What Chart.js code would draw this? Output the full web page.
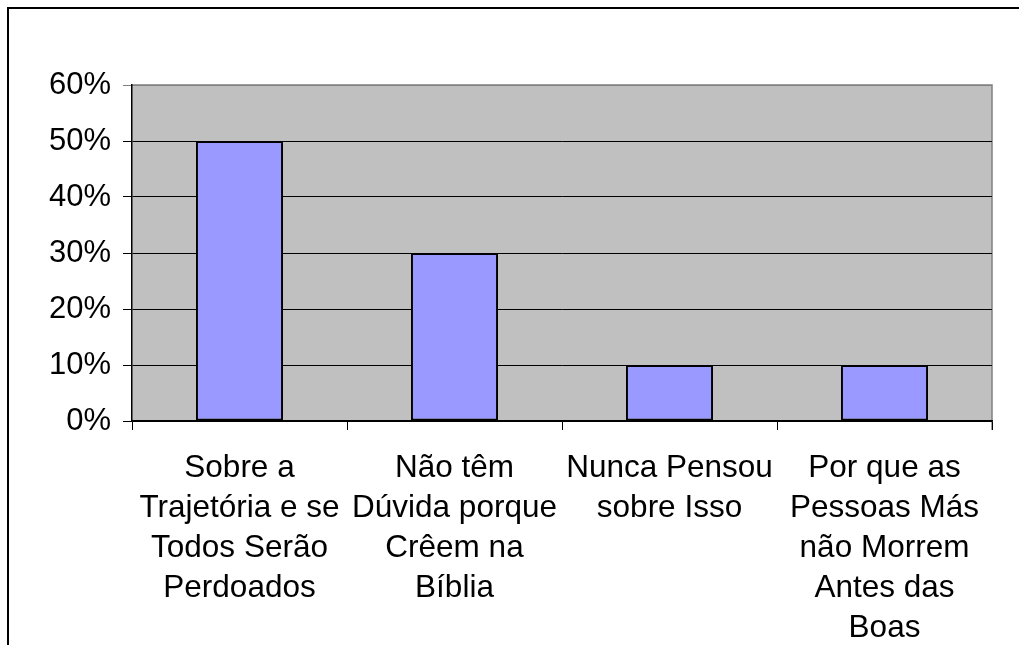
<!DOCTYPE html>
<html>
<head>
<meta charset="utf-8">
<script src="https://cdn.jsdelivr.net/npm/chart.js@4.4.0/dist/chart.umd.min.js"></script>
<style>
  html, body { margin: 0; padding: 0; background: #fff; }
  #wrap { width: 1019px; height: 645px; position: relative; }
</style>
</head>
<body>
<div id="wrap"><canvas id="respostas"></canvas></div>
<script>
const categorias = [
    ['Sobre a', 'Trajetória e se', 'Todos Serão', 'Perdoados'],
    ['Não têm', 'Dúvida porque', 'Crêem na', 'Bíblia'],
    ['Nunca Pensou', 'sobre Isso'],
    ['Por que as', 'Pessoas Más', 'não Morrem', 'Antes das', 'Boas']
];
const valores = [0.5, 0.3, 0.1, 0.1];
const yTicks = [0, 0.1, 0.2, 0.3, 0.4, 0.5, 0.6];

const fonteX = { family: '"Liberation Sans", Arial, sans-serif', size: 31.5, lineHeight: 1.27 };
const fonteY = { family: '"Liberation Sans", Arial, sans-serif', size: 31 };

// gray plot background + page frame
const fundo = {
    id: 'fundo',
    beforeDraw(chart) {
        const { ctx, chartArea: a } = chart;
        ctx.save();
        ctx.fillStyle = '#c0c0c0';
        ctx.fillRect(a.left, a.top, a.right - a.left, a.bottom - a.top);
        ctx.strokeStyle = '#808080';
        ctx.lineWidth = 1.5;
        ctx.beginPath();
        ctx.moveTo(a.left, a.top);
        ctx.lineTo(a.right, a.top);
        ctx.lineTo(a.right, a.bottom + 9);
        ctx.stroke();
        ctx.strokeStyle = '#000';
        ctx.lineWidth = 2;
        ctx.beginPath();
        ctx.moveTo(8, 645);
        ctx.lineTo(8, 8);
        ctx.lineTo(1019, 8);
        ctx.stroke();
        ctx.restore();
    }
};

const ctx = document.getElementById('respostas').getContext('2d');
let grafico = new Chart(ctx, {
    type: 'bar',
    data: {
        labels: categorias,
        datasets: [{
            data: valores,
            backgroundColor: '#9999ff',
            borderColor: '#000',
            borderWidth: 2,
            borderSkipped: false,
            categoryPercentage: 1,
            barPercentage: 0.405
        }]
    },
    options: {
        responsive: true,
        maintainAspectRatio: false,
        animation: false,
        layout: { padding: { top: 85, right: 27, left: 0, bottom: 0 } },
        plugins: { legend: { display: false }, tooltip: { enabled: false } },
        scales: {
            x: {
                grid: { drawOnChartArea: false, drawTicks: true, tickLength: 9, color: '#000', lineWidth: 1 },
                border: { color: '#000', width: 1.5 },
                ticks: { color: '#000', font: fonteX, maxRotation: 0, autoSkip: false, padding: 18 },
                afterFit(s) { s.height = 224; }
            },
            y: {
                min: 0,
                max: 0.6,
                afterBuildTicks(s) { s.ticks = yTicks.map(v => ({ value: v })); },
                grid: {
                    color: c => (c.tick && c.tick.value === 0.6 ? '#808080' : '#000'),
                    lineWidth: 1,
                    tickLength: 9
                },
                border: { color: '#000', width: 1.5 },
                ticks: {
                    color: '#000',
                    font: fonteY,
                    padding: 12,
                    callback: v => Math.round(v * 100) + '%'
                },
                afterFit(s) { s.width = 132; }
            }
        }
    },
    plugins: [fundo]
});
</script>
</body>
</html>
